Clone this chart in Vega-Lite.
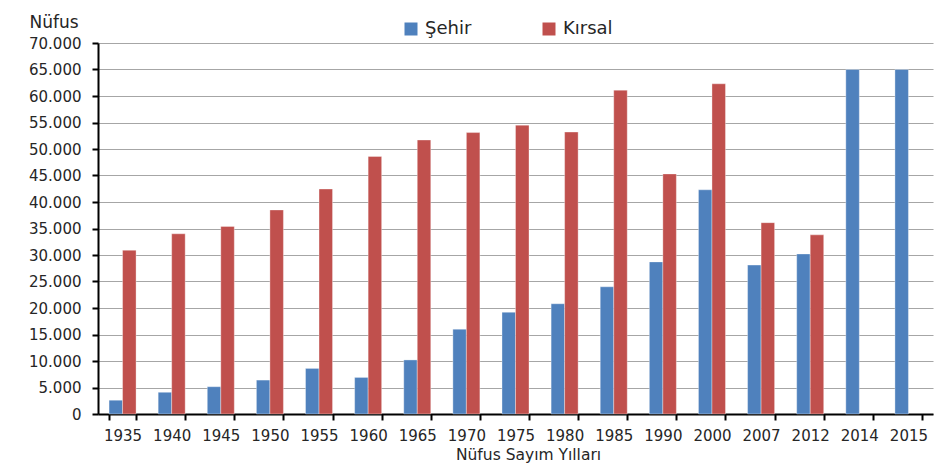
{
  "$schema": "https://vega.github.io/schema/vega-lite/v6.json",
  "width": 835,
  "height": 371,
  "autosize": {"type": "none"},
  "padding": {"left": 98, "top": 43, "right": 19, "bottom": 52},
  "background": "white",
  "data": {
    "values": [
      {"yil": "1935", "tur": "Şehir", "nufus": 2600}, {"yil": "1935", "tur": "Kırsal", "nufus": 30900},
      {"yil": "1940", "tur": "Şehir", "nufus": 4100}, {"yil": "1940", "tur": "Kırsal", "nufus": 34000},
      {"yil": "1945", "tur": "Şehir", "nufus": 5150}, {"yil": "1945", "tur": "Kırsal", "nufus": 35400},
      {"yil": "1950", "tur": "Şehir", "nufus": 6400}, {"yil": "1950", "tur": "Kırsal", "nufus": 38500},
      {"yil": "1955", "tur": "Şehir", "nufus": 8600}, {"yil": "1955", "tur": "Kırsal", "nufus": 42450},
      {"yil": "1960", "tur": "Şehir", "nufus": 6900}, {"yil": "1960", "tur": "Kırsal", "nufus": 48600},
      {"yil": "1965", "tur": "Şehir", "nufus": 10200}, {"yil": "1965", "tur": "Kırsal", "nufus": 51700},
      {"yil": "1970", "tur": "Şehir", "nufus": 16000}, {"yil": "1970", "tur": "Kırsal", "nufus": 53100},
      {"yil": "1975", "tur": "Şehir", "nufus": 19200}, {"yil": "1975", "tur": "Kırsal", "nufus": 54500},
      {"yil": "1980", "tur": "Şehir", "nufus": 20800}, {"yil": "1980", "tur": "Kırsal", "nufus": 53200},
      {"yil": "1985", "tur": "Şehir", "nufus": 24000}, {"yil": "1985", "tur": "Kırsal", "nufus": 61100},
      {"yil": "1990", "tur": "Şehir", "nufus": 28700}, {"yil": "1990", "tur": "Kırsal", "nufus": 45300},
      {"yil": "2000", "tur": "Şehir", "nufus": 42300}, {"yil": "2000", "tur": "Kırsal", "nufus": 62300},
      {"yil": "2007", "tur": "Şehir", "nufus": 28100}, {"yil": "2007", "tur": "Kırsal", "nufus": 36100},
      {"yil": "2012", "tur": "Şehir", "nufus": 30200}, {"yil": "2012", "tur": "Kırsal", "nufus": 33800},
      {"yil": "2014", "tur": "Şehir", "nufus": 65000},
      {"yil": "2015", "tur": "Şehir", "nufus": 65000}
    ]
  },
  "mark": {"type": "bar", "stroke": "#ffffff", "strokeOpacity": 0.35, "strokeWidth": 1},
  "encoding": {
    "x": {
      "field": "yil",
      "type": "nominal",
      "sort": null,
      "scale": {"domain": ["1935","1940","1945","1950","1955","1960","1965","1970","1975","1980","1985","1990","2000","2007","2012","2014","2015"], "paddingInner": 0.45, "paddingOuter": 0.225},
      "axis": {
        "title": "Nüfus Sayım Yılları",
        "labelAngle": 0,
        "tickBand": "extent",
        "tickSize": 6,
        "tickWidth": 2,
        "tickColor": "#000000",
        "domainColor": "#000000",
        "domainWidth": 2,
        "labelPadding": 8,
        "labelFontSize": 15,
        "titleFontSize": 15.5,
        "titleFontWeight": "normal",
        "titlePadding": 0,
        "titleX": 430,
        "titleY": 40,
        "titleBaseline": "middle",
        "grid": false
      }
    },
    "xOffset": {
      "field": "tur",
      "type": "nominal",
      "sort": ["Şehir", "Kırsal"],
      "scale": {"domain": ["Şehir", "Kırsal"], "paddingInner": 0, "paddingOuter": 0}
    },
    "y": {
      "field": "nufus",
      "type": "quantitative",
      "scale": {"domain": [0, 70000], "nice": false},
      "axis": {
        "values": [0,5000,10000,15000,20000,25000,30000,35000,40000,45000,50000,55000,60000,65000,70000],
        "labelExpr": "replace(format(datum.value, ','), ',', '.')",
        "title": "Nüfus",
        "titleAngle": 0,
        "titleAlign": "left",
        "titleBaseline": "middle",
        "titleX": -69,
        "titleY": -21,
        "titleFontSize": 17,
        "titleFontWeight": "normal",
        "labelFontSize": 15,
        "labelPadding": 11,
        "tickSize": 6,
        "tickWidth": 2,
        "tickColor": "#000000",
        "domainColor": "#000000",
        "domainWidth": 2,
        "grid": true,
        "gridColor": "#a6a6a6",
        "gridWidth": 1.2
      }
    },
    "color": {
      "field": "tur",
      "type": "nominal",
      "scale": {"domain": ["Şehir", "Kırsal"], "range": ["#4f81bd", "#c0504d"]},
      "legend": {
        "title": null,
        "orient": "none",
        "direction": "horizontal",
        "columns": 2,
        "legendX": 304,
        "legendY": -23,
        "symbolType": "square",
        "symbolSize": 169,
        "symbolStrokeWidth": 0,
        "symbolOpacity": 1,
        "labelFontSize": 18,
        "labelOffset": 5,
        "columnPadding": 68
      }
    }
  },
  "config": {
    "font": "DejaVu Sans",
    "view": {"stroke": null},
    "axis": {"labelColor": "#262626", "titleColor": "#262626"},
    "legend": {"labelColor": "#262626"}
  }
}
